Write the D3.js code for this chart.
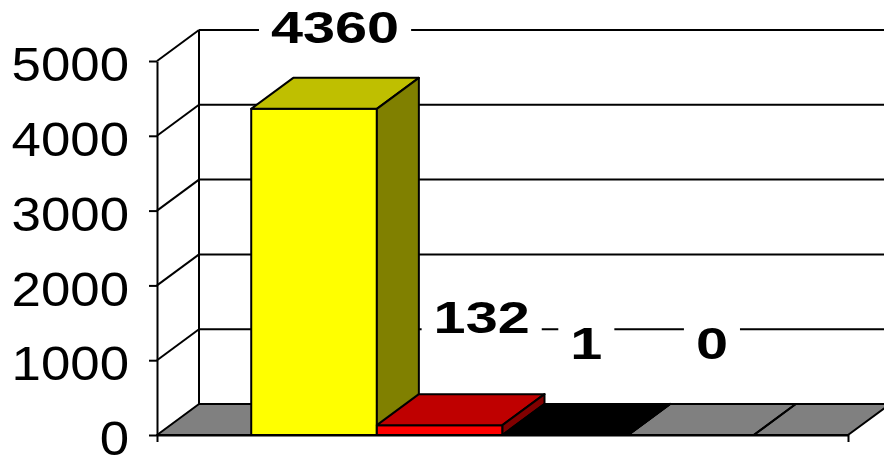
<!DOCTYPE html>
<html><head><meta charset="utf-8">
<script src="https://cdn.jsdelivr.net/npm/d3@7"></script>
<style>html,body{margin:0;padding:0;background:#fff;overflow:hidden}</style>
</head><body>
<svg id="c" width="884" height="455"></svg>
<script>
const seriesNames = ["Series 1", "Series 2", "Series 3", "Series 4"];
const seriesValues = [4360, 132, 1, 0];
const yTickValues = [0, 1000, 2000, 3000, 4000, 5000];
const seriesColors = ["#FFFF00", "#FF0000", "#000000", null];

const W = 884, H = 455;
const x0 = 157, x1 = 848, yBase = 435, yTop = 61;
const DX = 42, DY = 31;
const SW = 2;
const FONT = "'Liberation Sans', Arial, sans-serif";

const svg = d3.select("#c");
const y = d3.scaleLinear().domain([0, 5000]).range([yBase, yTop]);
const x = d3.scaleBand().domain(seriesNames).range([x0, x1]).paddingInner(0).paddingOuter(0.75);
const bw = x.bandwidth();

const shade = (c, k) => { const r = d3.rgb(c); return d3.rgb(r.r * k, r.g * k, r.b * k).formatHex(); };
const poly = pts => pts.map(p => p.join(",")).join(" ");

// walls + gridlines
const walls = svg.append("g").attr("stroke", "#000").attr("stroke-width", SW).attr("fill", "none");
yTickValues.filter(v => v > 0).forEach(v => {
  walls.append("line").attr("x1", x0 + DX).attr("x2", W + 10).attr("y1", y(v) - DY).attr("y2", y(v) - DY);
  walls.append("line").attr("x1", x0).attr("y1", y(v)).attr("x2", x0 + DX).attr("y2", y(v) - DY);
});
walls.append("line").attr("x1", x0 + DX).attr("x2", x0 + DX).attr("y1", y(5000) - DY).attr("y2", yBase - DY);

// floor
svg.append("polygon")
  .attr("points", poly([[x0, yBase], [x1, yBase], [x1 + DX, yBase - DY], [x0 + DX, yBase - DY]]))
  .attr("fill", "#808080").attr("stroke", "#000").attr("stroke-width", SW).attr("stroke-linejoin", "round");

// bars
const data = seriesNames.map((n, i) => ({ name: n, value: seriesValues[i], color: seriesColors[i] }));
const bars = svg.append("g").attr("stroke", "#000").attr("stroke-width", SW).attr("stroke-linejoin", "round");
data.forEach(d => {
  const bx = x(d.name), yt = y(d.value);
  const g = bars.append("g");
  g.append("rect").attr("x", bx).attr("y", yt).attr("width", bw).attr("height", yBase - yt)
    .attr("fill", d.color || "none");
  g.append("polygon").attr("points", poly([[bx, yt], [bx + bw, yt], [bx + bw + DX, yt - DY], [bx + DX, yt - DY]]))
    .attr("fill", d.color ? shade(d.color, 0.75) : "none");
  g.append("polygon").attr("points", poly([[bx + bw, yBase], [bx + bw, yt], [bx + bw + DX, yt - DY], [bx + bw + DX, yBase - DY]]))
    .attr("fill", d.color ? shade(d.color, 0.5) : "none");
});

// y axis
const yAxis = svg.append("g").attr("transform", `translate(${x0},0)`)
  .call(d3.axisLeft(y).tickValues(yTickValues).tickSize(8).tickSizeOuter(0).tickPadding(20).tickFormat(d3.format("d")));
yAxis.selectAll("path,line").attr("stroke", "#000").attr("stroke-width", SW);
yAxis.selectAll("text").attr("font-family", FONT).attr("font-size", 48).attr("fill", "#000").attr("dy", "0.41em")
  .each(function () {
    const L = this.getComputedTextLength();
    d3.select(this).attr("textLength", L * 1.1).attr("lengthAdjust", "spacingAndGlyphs");
  });

// category axis ticks
const xAxis = svg.append("g").attr("transform", `translate(0,${yBase})`)
  .call(d3.axisBottom(d3.scaleLinear().domain([0, 1]).range([x0, x1])).tickValues([0, 1]).tickFormat("").tickSize(7).tickSizeOuter(0));
xAxis.selectAll("path,line").attr("stroke", "#000").attr("stroke-width", SW);

// value labels
const labels = svg.append("g");
const STRETCH = 1.28, PAD = 12, BH = 44, FS = 45;
data.forEach((d, i) => {
  const bx = x(d.name), yt = y(d.value);
  const t = labels.append("text").text(d3.format("d")(d.value))
    .attr("font-family", FONT).attr("font-weight", "bold").attr("font-size", FS).attr("text-anchor", "middle").attr("fill", "#000");
  const nat = t.node().getComputedTextLength();
  const tl = nat * STRETCH;
  const bwid = tl + 2 * PAD;
  let cx = bx + bw / 2 + DX / 2;
  let cy = yt - DY / 2 - 77;
  if (i > 0) {
    const p = data[i - 1];
    const prevRight = x(p.name) + bw + DX + 2;
    const prevTop = y(p.value) - DY;
    if (cx - bwid / 2 < prevRight && cy + BH / 2 > prevTop) { cx += DX / 2; cy -= DY / 2; }
  }
  cy = Math.max(cy, 27);
  labels.insert("rect", "text").attr("x", cx - bwid / 2).attr("y", cy - BH / 2).attr("width", bwid).attr("height", BH).attr("fill", "#fff");
  t.attr("x", cx).attr("y", cy + 0.716 * FS / 2).attr("textLength", tl).attr("lengthAdjust", "spacingAndGlyphs");
});
</script>
</body></html>
